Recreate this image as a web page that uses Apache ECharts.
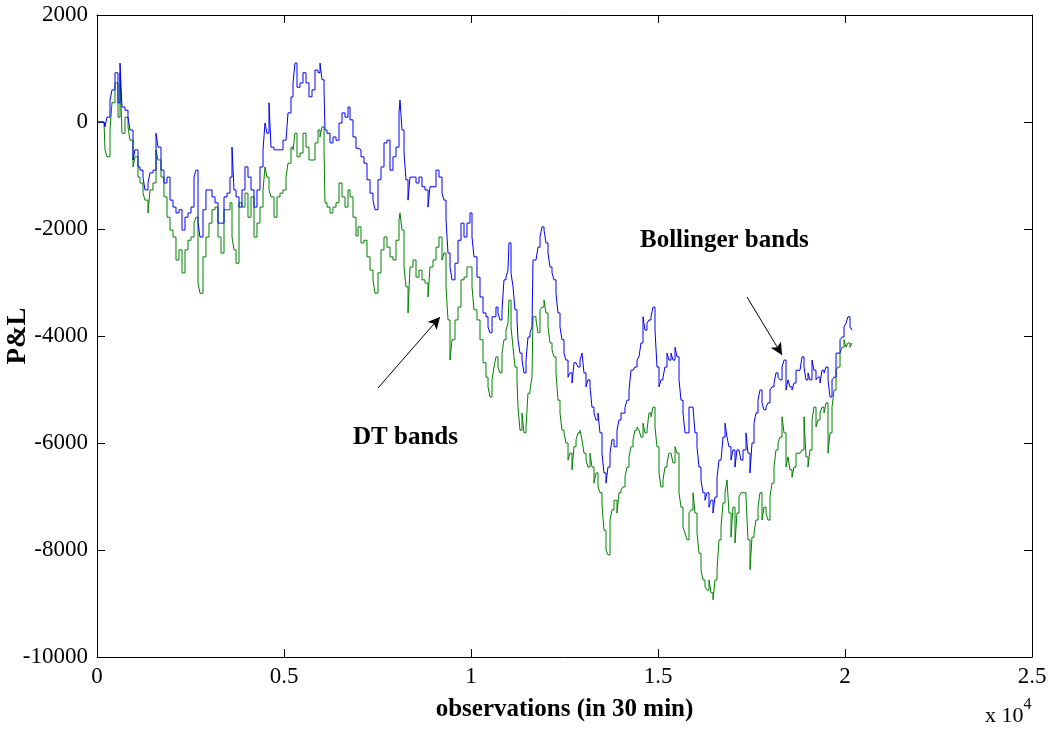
<!DOCTYPE html>
<html>
<head>
<meta charset="utf-8">
<script src="https://cdn.jsdelivr.net/npm/echarts@6/dist/echarts.min.js"></script>
<style>html,body{margin:0;padding:0;background:#fff}#c{width:1053px;height:731px}</style>
</head>
<body>
<div id="c"></div>
<script>
// observation index (x) shared by both series
var obs = [0,187,214,267,348,401,481,561,615,668,749,829,882,963,1016,1096,1150,1230,1283,1364,1417,1497,1578,1631,1711,1791,1872,1952,2032,2112,2193,2273,2353,2433,2513,2594,2647,2701,2754,2834,2914,2995,3075,3155,3235,3316,3396,3476,3556,3610,3663,3717,3797,3877,3957,4037,4118,4198,4278,4358,4439,4492,4545,4599,4652,4733,4813,4893,4973,5054,5107,5187,5241,5294,5348,5428,5508,5588,5668,5749,5829,5909,5963,6016,6070,6096,6150,6230,6310,6390,6471,6551,6631,6711,6765,6845,6925,6979,7059,7139,7219,7300,7380,7433,7513,7594,7674,7754,7834,7914,7995,8075,8102,8155,8209,8262,8316,8369,8449,8530,8610,8690,8770,8851,8904,8984,9064,9144,9225,9278,9332,9385,9439,9492,9572,9653,9733,9813,9893,9973,10027,10080,10160,10241,10321,10401,10455,10508,10562,10615,10668,10722,10775,10829,10882,10936,10989,11016,11070,11123,11176,11230,11257,11310,11364,11417,11471,11524,11578,11631,11658,11738,11791,11845,11898,11952,12005,12059,12112,12166,12219,12273,12326,12380,12433,12487,12540,12594,12647,12701,12754,12808,12861,12915,12968,13021,13075,13128,13182,13235,13289,13342,13396,13449,13503,13556,13610,13663,13717,13770,13824,13904,13957,14011,14064,14118,14171,14225,14278,14332,14385,14439,14492,14545,14599,14652,14706,14759,14813,14866,14920,14973,15027,15080,15134,15187,15241,15294,15348,15401,15455,15508,15562,15615,15669,15722,15775,15829,15882,15936,15989,16043,16096,16150,16203,16257,16310,16364,16417,16471,16524,16578,16631,16685,16738,16792,16845,16898,16952,17005,17059,17112,17166,17219,17273,17353,17406,17460,17513,17567,17620,17674,17727,17781,17834,17888,17941,17995,18048,18102,18155,18209,18262,18316,18369,18423,18476,18529,18583,18636,18690,18743,18797,18850,18904,18957,19011,19064,19118,19171,19225,19278,19332,19385,19439,19492,19546,19599,19653,19706,19760,19813,19867,19920,19974,20027,20080,20134,20187];

// P&L with Bollinger bands (blue)
var bollinger = [0,0,-90,90,410,600,920,360,1100,280,220,90,-150,-710,-520,-840,-900,-1030,-1270,-1140,-950,-900,-210,-470,-900,-1140,-1030,-1460,-1590,-1700,-1640,-2020,-1780,-1700,-1590,-1030,-900,-1890,-2150,-1640,-1270,-1270,-1400,-1510,-1890,-1890,-1400,-1330,-1030,-470,-1270,-1400,-1590,-1270,-840,-1030,-1270,-1590,-1270,-840,-520,-20,-210,360,-470,-520,-520,-520,-340,-340,170,470,730,1100,650,730,920,730,470,600,970,920,1100,790,600,-150,-210,-390,-280,-340,-20,170,90,280,40,-280,-490,-520,-650,-770,-1080,-1330,-1460,-1640,-1080,-840,-390,-340,-900,-650,-470,170,410,-150,-580,-1080,-1460,-1030,-1030,-1140,-1030,-1210,-1270,-1590,-1210,-1210,-900,-1030,-1330,-1460,-1830,-2450,-2710,-2950,-2640,-2210,-1890,-2150,-1890,-1700,-2150,-2520,-2900,-3270,-3570,-3640,-3830,-3940,-3640,-3640,-3460,-3570,-3700,-3510,-2950,-2900,-2770,-2260,-2820,-3080,-3510,-3700,-4070,-4320,-4450,-4690,-4450,-4020,-3940,-3830,-2580,-2580,-2340,-2150,-1960,-2020,-2260,-2450,-2710,-2820,-2950,-3200,-3570,-3830,-4070,-4320,-4450,-4770,-4690,-4880,-4500,-4500,-4580,-4450,-4320,-4690,-4950,-4820,-4950,-5330,-5440,-5570,-5440,-5810,-6190,-6560,-6750,-6450,-6190,-5940,-6070,-5760,-5570,-5440,-5440,-5330,-5200,-5010,-4640,-4640,-4580,-4450,-4390,-4130,-3640,-3890,-3760,-3700,-3640,-3460,-3890,-4580,-4950,-4820,-4770,-4580,-4320,-4450,-4320,-4450,-4210,-4390,-4820,-5200,-5440,-5810,-5810,-5330,-5330,-5330,-5810,-6070,-6450,-6690,-6930,-7070,-6930,-7200,-7070,-7310,-7010,-6640,-6320,-6320,-5890,-5630,-5890,-6070,-6320,-6130,-6450,-6130,-6130,-6320,-6130,-5810,-6190,-6560,-6000,-5630,-5440,-5200,-5010,-5250,-5380,-5330,-5250,-5010,-4950,-4880,-4690,-4770,-4820,-4580,-4450,-5010,-4820,-4950,-5010,-4880,-4640,-4640,-4640,-4390,-4580,-4820,-4690,-4820,-4450,-4640,-4820,-4770,-4880,-4640,-4690,-4580,-4820,-5140,-4820,-4770,-4320,-4320,-4070,-4020,-3830,-3760,-3640,-3830,-3890];

// P&L with DT bands (green)
var dtBands = [0,0,-520,-650,-150,360,730,90,920,-210,90,-90,-340,-840,-650,-1030,-1140,-1330,-1460,-1700,-1270,-1140,-520,-710,-1030,-1400,-1780,-2020,-2150,-2580,-2390,-2820,-2390,-2210,-2150,-1890,-1780,-3010,-3200,-2520,-2150,-1890,-1640,-1590,-2150,-2450,-1640,-1640,-1510,-2150,-2390,-2640,-1510,-1590,-1330,-1780,-1400,-2150,-1890,-1590,-1270,-840,-1030,-1270,-1400,-1780,-1400,-1330,-1270,-1030,-770,-470,-520,-210,-650,-580,-210,-470,-710,-710,-390,-150,-280,-90,-520,-1510,-1590,-1700,-1590,-1510,-1140,-1400,-1590,-1270,-1400,-1780,-2130,-1960,-2260,-2210,-2520,-2770,-2950,-3200,-2820,-2390,-2150,-2340,-2520,-2580,-2210,-1830,-1700,-2020,-2710,-3080,-3570,-2710,-2580,-2900,-2770,-2950,-3010,-3270,-2710,-2580,-2340,-2150,-2580,-2450,-3080,-3700,-4450,-4070,-3700,-3460,-2950,-2900,-2710,-2710,-3080,-3510,-3700,-4070,-4500,-4770,-4950,-5140,-4820,-4580,-4390,-4580,-4690,-4320,-4070,-3890,-3760,-3330,-3830,-4210,-4580,-4820,-5330,-5760,-5440,-5810,-5700,-5070,-5010,-4770,-3640,-3700,-3940,-3510,-3460,-3330,-3570,-3830,-4130,-4260,-4390,-4690,-5200,-5440,-5760,-5810,-6000,-6320,-6190,-6500,-6070,-5940,-5810,-5760,-5940,-6190,-6320,-6450,-6190,-6450,-6750,-6560,-6820,-6930,-7160,-7630,-8000,-8090,-7440,-7250,-7070,-7310,-6930,-6880,-6820,-6640,-6450,-6260,-6070,-5940,-5760,-5700,-5760,-5890,-5630,-5810,-5760,-5440,-5510,-5330,-5700,-6070,-6560,-6820,-6690,-6450,-6370,-6190,-6190,-6370,-6070,-6190,-6930,-7200,-7570,-7680,-7810,-7310,-7250,-6930,-7310,-7680,-8060,-8370,-8560,-8690,-8750,-8560,-8800,-8930,-8560,-8370,-7810,-7570,-7120,-6930,-6690,-7310,-7760,-7200,-7870,-7310,-7010,-6930,-6930,-7010,-7810,-8370,-7760,-7680,-7440,-7200,-6930,-7440,-7200,-7310,-7440,-7010,-6750,-6450,-6130,-6000,-5890,-5510,-5810,-6450,-6260,-6500,-6640,-6450,-6190,-6190,-6190,-6130,-5510,-6260,-6450,-6130,-5570,-5330,-5700,-5570,-5440,-5330,-5440,-5250,-6190,-5810,-5330,-5010,-4640,-4580,-4320,-4210,-4070,-4210,-4130,-4210,-4130];

var xTicks = [0, 5000, 10000, 15000, 20000, 25000];
var yTicks = [-10000, -8000, -6000, -4000, -2000, 0, 2000];

function pairs(xs, ys) { return xs.map(function (x, i) { return [x, ys[i]]; }); }

var FONT = '"Liberation Serif", "DejaVu Serif", serif';
var chart = echarts.init(document.getElementById('c'), null, { renderer: 'canvas' });

function xAxisBase(pos, show) {
  return {
    type: 'value', position: pos, min: xTicks[0], max: xTicks[xTicks.length - 1], interval: 5000,
    axisLine: { show: true, onZero: false, lineStyle: { color: '#000', width: 1 } },
    axisTick: { show: true, inside: true, length: 8, lineStyle: { color: '#000' } },
    axisLabel: { show: show, color: '#000', fontFamily: FONT, fontSize: 23, margin: 8,
      formatter: function (v) { return String(v / 10000); } },
    splitLine: { show: false }
  };
}
function yAxisBase(pos, show) {
  return {
    type: 'value', position: pos, min: yTicks[0], max: yTicks[yTicks.length - 1], interval: 2000,
    axisLine: { show: true, onZero: false, lineStyle: { color: '#000', width: 1 } },
    axisTick: { show: true, inside: true, length: 8, lineStyle: { color: '#000' } },
    axisLabel: { show: show, color: '#000', fontFamily: FONT, fontSize: 23, margin: 9,
      formatter: function (v) { return String(v); } },
    splitLine: { show: false }
  };
}

var xBottom = xAxisBase('bottom', true);
xBottom.name = 'observations (in 30 min)';
xBottom.nameLocation = 'middle';
xBottom.nameGap = 40;
xBottom.nameTextStyle = { color: '#000', fontFamily: FONT, fontSize: 25, fontWeight: 'bold' };

var option = {
  animation: false,
  backgroundColor: '#fff',
  grid: { left: 97, right: 21, top: 15, bottom: 74, containLabel: false, outerBoundsMode: 'none' },
  xAxis: [xBottom, xAxisBase('top', false)],
  yAxis: [yAxisBase('left', true), yAxisBase('right', false)],
  series: [
    {
      name: 'Bollinger bands', type: 'line', step: 'end', showSymbol: false, symbol: 'none',
      data: pairs(obs, bollinger), lineStyle: { color: '#0000ff', width: 1 }, z: 3,
      markLine: {
        silent: true, symbol: ['none', 'arrow'], symbolSize: [9, 12],
        lineStyle: { color: '#000', width: 1, type: 'solid' }, label: { show: false },
        data: [[{ coord: [17380, -3271] }, { coord: [18316, -4355] }]]
      }
    },
    {
      name: 'DT bands', type: 'line', step: 'end', showSymbol: false, symbol: 'none',
      data: pairs(obs, dtBands), lineStyle: { color: '#008000', width: 1 }, z: 2,
      markLine: {
        silent: true, symbol: ['none', 'arrow'], symbolSize: [9, 12],
        lineStyle: { color: '#000', width: 1, type: 'solid' }, label: { show: false },
        data: [[{ coord: [7513, -4972] }, { coord: [9171, -3645] }]]
      }
    }
  ],
  graphic: [
    { type: 'text', x: 18, y: 336, rotation: Math.PI / 2, style: { text: 'P&L', fill: '#000',
      font: 'bold 27px ' + FONT, align: 'center', verticalAlign: 'middle' } },
    { type: 'text', left: 640, top: 228, style: { text: 'Bollinger bands', fill: '#000',
      font: 'bold 25px ' + FONT } },
    { type: 'text', left: 353, top: 425, style: { text: 'DT bands', fill: '#000',
      font: 'bold 25px ' + FONT } },
    { type: 'text', left: 985, top: 697, style: {
      text: '{b|x 10}{s|4}', fill: '#000',
      rich: { b: { fontFamily: FONT, fontSize: 22, verticalAlign: 'bottom', lineHeight: 30 },
              s: { fontFamily: FONT, fontSize: 16, verticalAlign: 'top', lineHeight: 30 } } } }
  ]
};
chart.setOption(option);
</script>
</body>
</html>
